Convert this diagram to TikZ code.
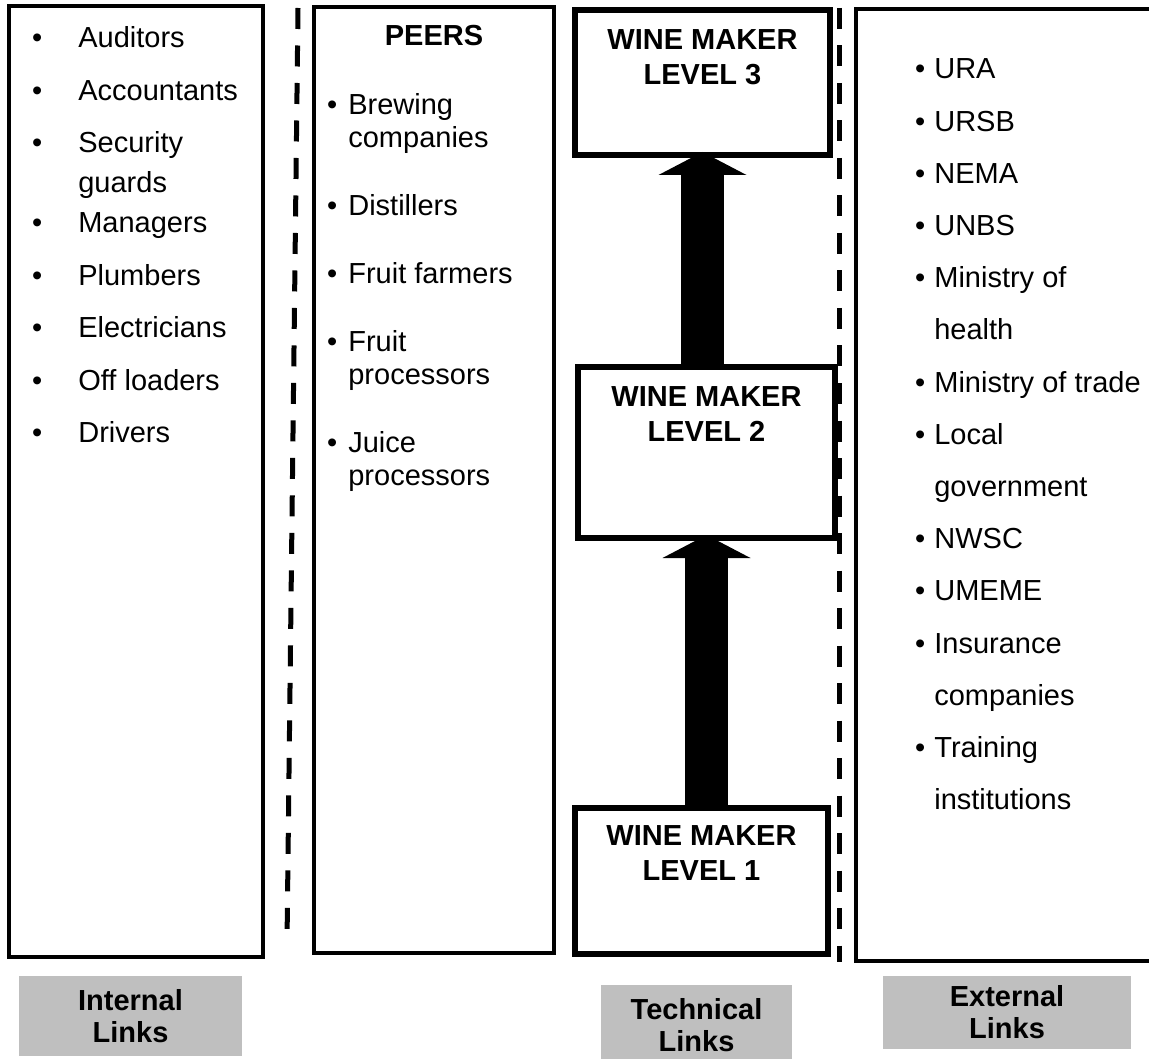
\documentclass[tikz,border=0pt]{standalone}
\usepackage{fontspec}
\setmainfont{Liberation Sans}
\usepackage{tikz}
\usetikzlibrary{positioning,arrows.meta}
\definecolor{linkgray}{RGB}{191,191,191}
\tikzset{
	listbox/.style  = {draw, line width=3.5pt},
	wmbox/.style    = {shape=rectangle, draw, line width=5.5pt, outer sep=0pt},
	wmtext/.style   = {align=center, inner sep=0pt, font=\fontsize{29}{35}\selectfont\bfseries},
	listtext/.style = {anchor=base west, inner sep=0pt},
	linkbox/.style  = {shape=rectangle, fill=linkgray, align=center, inner sep=0pt,
		font=\fontsize{29}{32}\selectfont\bfseries},
	sepline/.style  = {line width=5pt, dash pattern=on 21pt off 16.5pt},
	fatarrow/.style = {line width=43pt, shorten >=-3pt,
		-{Triangle[width=88pt,length=23pt,line width=0pt]}}
}

\begin{document}
\begin{tikzpicture}
	[
	x                 = 1pt,
	y                 = -1pt,
	every node/.style = {font=\fontsize{29}{33}\selectfont}
	]
	\useasboundingbox (0,0) rectangle (1149,1059);
	\clip (0,0) rectangle (1149,1059);

	% columns and separators
	\draw[listbox] (9,6) rectangle (263,957);
	\draw[listbox] (314,7) rectangle (554,953);
	\draw[listbox] (856,9) rectangle (1170,961);
	\draw[sepline] (298,8) -- (287,943);
	\draw[sepline] (839,8) -- (839,962);

	% internal links
	\node[listtext] (internal) at (32,48) {\fontsize{29}{40}\selectfont
		\begin{tabular}[t]{@{}l@{\hspace{36pt}}l@{}}
			\textbullet & Auditors\\[12.5pt]
			\textbullet & Accountants\\[12.5pt]
			\textbullet & Security\\
			            & guards\\
			\textbullet & Managers\\[12.5pt]
			\textbullet & Plumbers\\[12.5pt]
			\textbullet & Electricians\\[12.5pt]
			\textbullet & Off loaders\\[12.5pt]
			\textbullet & Drivers
		\end{tabular}};

	% peers
	\node[anchor=base, inner sep=0pt, font=\fontsize{29}{33}\selectfont\bfseries]
		(peers) at (434,46) {PEERS};
	\node[listtext] (peerlist) at (327,115) {%
		\begin{tabular}[t]{@{}l@{\hspace{11pt}}l@{}}
			\textbullet & Brewing\\
			            & companies\\[35pt]
			\textbullet & Distillers\\[35pt]
			\textbullet & Fruit farmers\\[35pt]
			\textbullet & Fruit\\
			            & processors\\[35pt]
			\textbullet & Juice\\
			            & processors
		\end{tabular}};

	% wine makers
	\node[wmbox, minimum width=255pt, minimum height=145pt] (wm3) at (702.5,82.5) {};
	\node[wmtext, below=19.5pt of wm3.north] (wm3txt) {WINE MAKER\\LEVEL 3};
	\node[wmbox, minimum width=257pt, minimum height=171pt] (wm2) at (706.5,452.5) {};
	\node[wmtext, below=19.5pt of wm2.north] (wm2txt) {WINE MAKER\\LEVEL 2};
	\node[wmbox, minimum width=253pt, minimum height=146pt] (wm1) at (701.5,881) {};
	\node[wmtext, below=17.5pt of wm1.north] (wm1txt) {WINE MAKER\\LEVEL 1};

	\draw[fatarrow] (wm2.north -| wm3.south) -- (wm3.south);
	\draw[fatarrow] (wm1.north -| wm2.south) -- (wm2.south);

	% external links
	\node[listtext] (external) at (915,79) {\fontsize{29}{52.2}\selectfont
		\begin{tabular}[t]{@{}l@{\hspace{9pt}}l@{}}
			\textbullet & URA\\
			\textbullet & URSB\\
			\textbullet & NEMA\\
			\textbullet & UNBS\\
			\textbullet & Ministry of\\
			            & health\\
			\textbullet & Ministry of trade\\
			\textbullet & Local\\
			            & government\\
			\textbullet & NWSC\\
			\textbullet & UMEME\\
			\textbullet & Insurance\\
			            & companies\\
			\textbullet & Training\\
			            & institutions
		\end{tabular}};

	% link labels
	\node[linkbox, minimum width=223pt, minimum height=80pt] (intlinks) at (130.5,1016) {Internal\\Links};
	\node[linkbox, minimum width=191pt, minimum height=80pt] (techlinks) at (696.5,1025) {Technical\\Links};
	\node[linkbox, minimum width=248pt, minimum height=73pt] (extlinks) at (1007,1012.5) {External\\Links};
\end{tikzpicture}
\end{document}
